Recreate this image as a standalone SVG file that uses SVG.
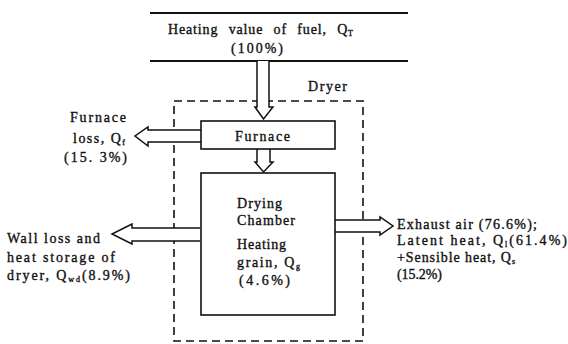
<svg xmlns="http://www.w3.org/2000/svg" width="568" height="344" viewBox="0 0 568 344">
<style>
text{font-family:"Liberation Serif","DejaVu Serif",serif;font-size:14px;fill:#111;stroke:#111;stroke-width:0.35}
.sub{font-size:8px}
.box{fill:#fff;stroke:#111;stroke-width:1.6}
.arr{fill:#fff;stroke:#111;stroke-width:1.5;stroke-linejoin:miter}
.rule{stroke:#111;stroke-width:2}
.dash{fill:none;stroke:#111;stroke-width:1.6;stroke-dasharray:8,5}
</style>
<rect width="568" height="344" fill="#fff"/>
<g id="fuel">
<line class="rule" x1="150" y1="13" x2="408" y2="13"/>
<line class="rule" x1="150" y1="61" x2="408" y2="61"/>
<text x="168" y="34" textLength="185" lengthAdjust="spacing" word-spacing="6">Heating value of fuel, Q<tspan class="sub" dy="2">T</tspan></text>
<text x="231" y="53" textLength="52" lengthAdjust="spacing">(100%)</text>
</g>
<g id="dryer">
<rect class="dash" x="174" y="101" width="189" height="240"/>
<text x="308" y="91" textLength="39" lengthAdjust="spacing">Dryer</text>
</g>
<g id="connectors">
<path class="arr" d="M257,61 V107 H255 L263.5,119 L273,107 H269 V61"/>
<path class="arr" d="M257,149 V162 H255 L263.5,172 L273,162 H270 V149"/>
<path class="arr" d="M201,130 H148 V127 L135,136 L148,146 V142 H201"/>
<path class="arr" d="M200,228 H132 V224 L112,234 L132,244 V241 H200"/>
<path class="arr" d="M335,220 H380 V217 L393,226 L380,235 V232 H335"/>
</g>
<g id="furnace">
<rect class="box" x="201" y="121" width="134" height="28"/>
<text x="235" y="141" textLength="55" lengthAdjust="spacing">Furnace</text>
</g>
<g id="chamber">
<rect class="box" x="201" y="173" width="134" height="142"/>
<text x="237" y="208" textLength="45" lengthAdjust="spacing">Drying</text>
<text x="237" y="225" textLength="58" lengthAdjust="spacing">Chamber</text>
<text x="237" y="249" textLength="49" lengthAdjust="spacing">Heating</text>
<text x="237" y="267" textLength="63" lengthAdjust="spacing">grain, Q<tspan class="sub" dy="2">g</tspan></text>
<text x="239" y="285" textLength="51" lengthAdjust="spacing">(4.6%)</text>
</g>
<g id="furnace-loss">
<text x="70" y="122" textLength="56" lengthAdjust="spacing">Furnace</text>
<text x="73" y="143" textLength="52" lengthAdjust="spacing">loss, Q<tspan class="sub" dy="2">f</tspan></text>
<text x="64" y="162" textLength="63" lengthAdjust="spacing">(15. 3%)</text>
</g>
<g id="wall-loss">
<text x="7" y="243" textLength="93" lengthAdjust="spacing">Wall loss and</text>
<text x="7" y="262" textLength="108" lengthAdjust="spacing">heat storage of</text>
<text x="7" y="280" textLength="123" lengthAdjust="spacing">dryer, Q<tspan class="sub" dy="2">wd</tspan><tspan dy="-2">(8.9%)</tspan></text>
</g>
<g id="exhaust">
<text x="397" y="229" textLength="140" lengthAdjust="spacing">Exhaust air (76.6%);</text>
<text x="397" y="245" textLength="170" lengthAdjust="spacing">Latent heat, Q<tspan class="sub" dy="2">l</tspan><tspan dy="-2">(61.4%)</tspan></text>
<text x="397" y="262" textLength="118" lengthAdjust="spacing">+Sensible heat, Q<tspan class="sub" dy="2">s</tspan></text>
<text x="397" y="279" textLength="45" lengthAdjust="spacing">(15.2%)</text>
</g>
</svg>
